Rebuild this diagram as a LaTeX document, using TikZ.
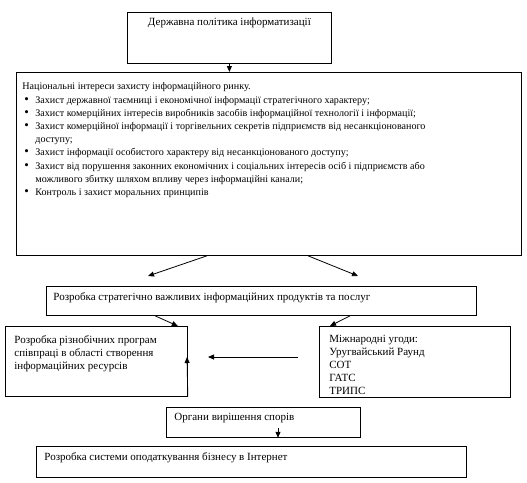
\documentclass[tikz,border=0pt]{standalone}
\usepackage{fontspec}
\setmainfont{Liberation Serif}
\usetikzlibrary{arrows.meta,calc}
\tikzset{box/.style={draw,line width=0.8pt,anchor=north west,inner xsep=7pt,inner ysep=0pt},
  arr/.style={-{Triangle[length=6pt,width=5pt]},line width=0.8pt}}
\newcommand{\inbox}[6]{\parbox[c][#2][t]{#1}{\fontsize{#6}{#4}\selectfont\raggedright\parindent=0pt\rule{0pt}{#3}#5}}
\newcommand{\itm}{\par\hangindent=13pt\hangafter=1\hspace*{2pt}\makebox[11pt][l]{\fontsize{13}{13}\selectfont\textbullet}}

\begin{document}
\begin{tikzpicture}[x=1pt,y=-1pt]
\useasboundingbox (0,0) rectangle (527,482);
\node[box] (pol) at (127,12) {\inbox{190pt}{51pt}{13.5pt}{13pt}{\centering Державна політика інформатизації}{11}};
\node[box,inner xsep=6pt] (nat) at (16,72) {\inbox{493pt}{183pt}{17.5pt}{13.2pt}{Національні інтереси захисту інформаційного ринку.
\itm Захист державної таємниці і економічної інформації стратегічного характеру;
\itm Захист комерційних інтересів виробників засобів інформаційної технології і інформації;
\itm Захист комерційної інформації і торгівельних секретів підприємств від несанкціонованого\newline доступу;
\itm Захист інформації особистого характеру  від несанкціонованого доступу;
\itm Захист від порушення законних економічних і соціальних інтересів осіб і підприємств або\newline можливого збитку шляхом впливу через інформаційні  канали;
\itm Контроль і захист моральних принципів}{10.1}};
\node[box] (dev) at (46,286) {\inbox{416pt}{29pt}{14.5pt}{13pt}{Розробка стратегічно важливих інформаційних продуктів та послуг}{11}};
\node[box,inner xsep=9pt] (prog) at (5,326) {\inbox{164pt}{70pt}{17.5pt}{13pt}{Розробка різнобічних програм\\співпраці в області створення\\інформаційних ресурсів}{11}};
\node[box,inner xsep=10pt] (agr) at (319,326) {\inbox{171pt}{71pt}{16.5pt}{12.8pt}{Міжнародні угоди:\\Уругвайський Раунд\\СОТ\\ГАТС\\ТРИПС}{11}};
\node[box,inner xsep=8pt] (org) at (166,407) {\inbox{178pt}{30pt}{13.5pt}{13pt}{Органи вирішення спорів}{11}};
\node[box,inner xsep=8pt] (sys) at (36,446) {\inbox{414pt}{31pt}{14.5pt}{13pt}{Розробка системи оподаткування бізнесу в Інтернет}{11}};
\coordinate (dl) at (148,276); \coordinate (dr) at (358,276); \coordinate (pu) at (187,357); \coordinate (ha) at (298,357); \coordinate (hb) at (208,357);
\draw[arr] (pol.south) -- (pol.south |- nat.north);
\draw[arr] ($(nat.south west)+(191,0)$) -- (dl);
\draw[arr] ($(nat.south west)+(292,0)$) -- (dr);
\draw[arr] ($(dev.south west)+(109,0)$) -- ($(prog.north east)+(-10,0)$);
\draw[arr] ($(dev.south west)+(304,0)$) -- ($(agr.north west)+(11,0)$);
\draw[arr] (prog.south east) -- (pu);
\draw[arr] (ha) -- (hb);
\draw[arr] ($(org.south west)+(112,-10)$) -- ($(org.south west)+(112,0)$ |- sys.north);
\end{tikzpicture}
\end{document}
